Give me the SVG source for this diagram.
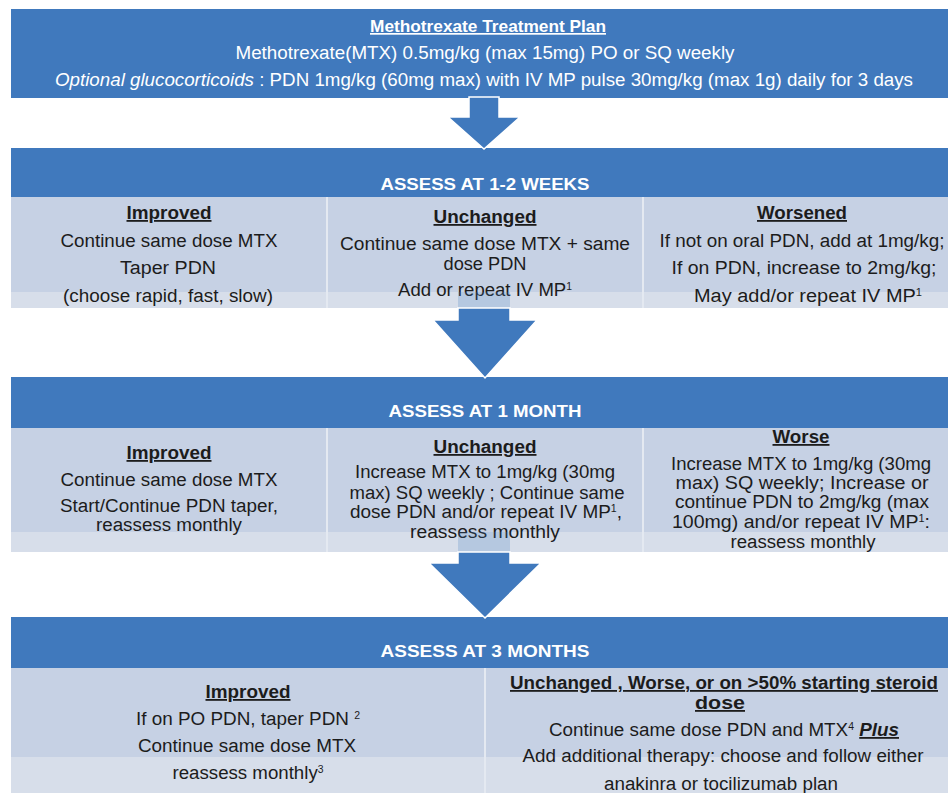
<svg xmlns="http://www.w3.org/2000/svg" width="948" height="793" viewBox="0 0 948 793">
  <style>
    .hd { fill: #4079bd; }
    .pn { fill: #c6d1e4; }
    .st { fill: #d7deea; }
    .dv { stroke: #e4e9f1; stroke-width: 2; }
    .t { font-family: "Liberation Sans", Arial, sans-serif; font-size: 18px; fill: #1c1c1c; text-anchor: middle; }
    .w { fill: #ffffff; }
    .b { font-weight: bold; }
    .i { font-style: italic; }
    .u { text-decoration: underline; }
    .h { font-size: 17px; }
    .sup { font-size: 10px; }
    .arrow { fill: #4079bd; stroke: #ffffff; stroke-width: 1.5; stroke-linejoin: miter; }
    .shaft { fill: #4079bd; fill-opacity: 0.22; }
  </style>
  <rect width="948" height="793" fill="#ffffff"/>

  <!-- Starting plan -->
  <g id="plan">
    <rect class="hd" x="11" y="9" width="948" height="89"/>
    <text class="t w b u h" x="488" y="32" textLength="236" lengthAdjust="spacingAndGlyphs">Methotrexate Treatment Plan</text>
    <text class="t w" x="485" y="59" textLength="499" lengthAdjust="spacingAndGlyphs">Methotrexate(MTX) 0.5mg/kg (max 15mg) PO or SQ weekly</text>
    <text class="t w" x="484" y="86" textLength="858" lengthAdjust="spacingAndGlyphs"><tspan class="i">Optional glucocorticoids</tspan> : PDN 1mg/kg (60mg max) with IV MP pulse 30mg/kg (max 1g) daily for 3 days</text>
  </g>

  <!-- Assessment at 1-2 weeks -->
  <g id="assess-1-2-weeks">
    <rect class="pn" x="11" y="197" width="948" height="95"/>
    <rect class="st" x="11" y="292" width="948" height="16"/>
    <rect class="hd" x="11" y="148" width="948" height="49"/>
    <line class="dv" x1="327" y1="197" x2="327" y2="308"/>
    <line class="dv" x1="643" y1="197" x2="643" y2="308"/>
    <text class="t w b h" x="485" y="190" textLength="209" lengthAdjust="spacingAndGlyphs">ASSESS AT 1-2 WEEKS</text>
  </g>
  <g id="w2-improved">
    <text class="t b u" x="169" y="219" textLength="85" lengthAdjust="spacingAndGlyphs">Improved</text>
    <text class="t" x="169" y="247" textLength="217" lengthAdjust="spacingAndGlyphs">Continue same dose MTX</text>
    <text class="t" x="168" y="274" textLength="96" lengthAdjust="spacingAndGlyphs">Taper PDN</text>
    <text class="t" x="168" y="302" textLength="210" lengthAdjust="spacingAndGlyphs">(choose rapid, fast, slow)</text>
  </g>
  <g id="w2-unchanged">
    <text class="t b u" x="485" y="223" textLength="103" lengthAdjust="spacingAndGlyphs">Unchanged</text>
    <text class="t" x="485" y="250" textLength="290" lengthAdjust="spacingAndGlyphs">Continue  same dose MTX + same</text>
    <text class="t" x="485" y="270" textLength="83" lengthAdjust="spacingAndGlyphs">dose PDN</text>
    <text class="t" x="485" y="296" textLength="174" lengthAdjust="spacingAndGlyphs">Add or repeat IV MP<tspan class="sup" dy="-6">1</tspan></text>
  </g>
  <g id="w2-worsened">
    <text class="t b u" x="802" y="219" textLength="90" lengthAdjust="spacingAndGlyphs">Worsened</text>
    <text class="t" x="802" y="247" textLength="285" lengthAdjust="spacingAndGlyphs">If not on oral PDN, add at 1mg/kg;</text>
    <text class="t" x="804" y="274" textLength="265" lengthAdjust="spacingAndGlyphs">If on PDN, increase to 2mg/kg;</text>
    <text class="t" x="808" y="302" textLength="228" lengthAdjust="spacingAndGlyphs">May add/or repeat IV MP<tspan class="sup" dy="-6">1</tspan></text>
  </g>

  <!-- Assessment at 1 month -->
  <g id="assess-1-month">
    <rect class="pn" x="11" y="428" width="948" height="104"/>
    <rect class="st" x="11" y="532" width="948" height="20"/>
    <rect class="hd" x="11" y="377" width="948" height="51"/>
    <line class="dv" x1="327" y1="428" x2="327" y2="552"/>
    <line class="dv" x1="643" y1="428" x2="643" y2="552"/>
    <text class="t w b h" x="485" y="417" textLength="193" lengthAdjust="spacingAndGlyphs">ASSESS AT 1 MONTH</text>
  </g>
  <g id="m1-improved">
    <text class="t b u" x="169" y="459" textLength="85" lengthAdjust="spacingAndGlyphs">Improved</text>
    <text class="t" x="169" y="486" textLength="217" lengthAdjust="spacingAndGlyphs">Continue same dose MTX</text>
    <text class="t" x="169" y="512" textLength="218" lengthAdjust="spacingAndGlyphs">Start/Continue PDN taper,</text>
    <text class="t" x="169" y="531" textLength="146" lengthAdjust="spacingAndGlyphs">reassess monthly</text>
  </g>
  <g id="m1-unchanged">
    <text class="t b u" x="485" y="453" textLength="103" lengthAdjust="spacingAndGlyphs">Unchanged</text>
    <text class="t" x="485" y="478" textLength="260" lengthAdjust="spacingAndGlyphs">Increase MTX to 1mg/kg (30mg</text>
    <text class="t" x="487" y="499" textLength="275" lengthAdjust="spacingAndGlyphs">max) SQ weekly ; Continue same</text>
    <text class="t" x="486" y="518" textLength="272" lengthAdjust="spacingAndGlyphs">dose PDN and/or repeat IV MP<tspan class="sup" dy="-6">1</tspan><tspan dy="6">,</tspan></text>
    <text class="t" x="485" y="538" textLength="150" lengthAdjust="spacingAndGlyphs">reassess  monthly</text>
  </g>
  <g id="m1-worse">
    <text class="t b u" x="801" y="443" textLength="57" lengthAdjust="spacingAndGlyphs">Worse</text>
    <text class="t" x="801" y="470" textLength="260" lengthAdjust="spacingAndGlyphs">Increase MTX to 1mg/kg (30mg</text>
    <text class="t" x="802" y="489" textLength="253" lengthAdjust="spacingAndGlyphs">max) SQ weekly;  Increase  or</text>
    <text class="t" x="802" y="508" textLength="254" lengthAdjust="spacingAndGlyphs">continue PDN to 2mg/kg (max</text>
    <text class="t" x="801" y="528" textLength="258" lengthAdjust="spacingAndGlyphs">100mg) and/or repeat IV MP<tspan class="sup" dy="-6">1</tspan><tspan dy="6">:</tspan></text>
    <text class="t" x="803" y="548" textLength="145" lengthAdjust="spacingAndGlyphs">reassess monthly</text>
  </g>

  <!-- Assessment at 3 months -->
  <g id="assess-3-months">
    <rect class="pn" x="11" y="668" width="948" height="89"/>
    <rect class="st" x="11" y="757" width="948" height="36"/>
    <rect class="hd" x="11" y="617" width="948" height="51"/>
    <line class="dv" x1="485" y1="668" x2="485" y2="793"/>
    <text class="t w b h" x="485" y="657" textLength="209" lengthAdjust="spacingAndGlyphs">ASSESS AT 3  MONTHS</text>
  </g>
  <g id="m3-improved">
    <text class="t b u" x="248" y="698" textLength="85" lengthAdjust="spacingAndGlyphs">Improved</text>
    <text class="t" x="248" y="725" textLength="224" lengthAdjust="spacingAndGlyphs">If on PO PDN, taper PDN <tspan class="sup" dy="-6">2</tspan></text>
    <text class="t" x="247" y="752" textLength="218" lengthAdjust="spacingAndGlyphs">Continue same dose MTX</text>
    <text class="t" x="248" y="779" textLength="151" lengthAdjust="spacingAndGlyphs">reassess monthly<tspan class="sup" dy="-6">3</tspan></text>
  </g>
  <g id="m3-unchanged-worse">
    <text class="t b u" x="724" y="689" textLength="428" lengthAdjust="spacingAndGlyphs">Unchanged , Worse, or on &gt;50% starting steroid</text>
    <text class="t b u" x="720" y="709" textLength="50" lengthAdjust="spacingAndGlyphs">dose</text>
    <text class="t" x="724" y="736" textLength="350" lengthAdjust="spacingAndGlyphs">Continue same dose PDN and MTX<tspan class="sup" dy="-6">4</tspan><tspan dy="6"> </tspan><tspan class="b i u">Plus</tspan></text>
    <text class="t" x="723" y="762" textLength="401" lengthAdjust="spacingAndGlyphs">Add additional therapy: choose and follow either</text>
    <text class="t" x="721" y="790" textLength="234" lengthAdjust="spacingAndGlyphs">anakinra or tocilizumab plan</text>
  </g>

  <!-- Flow arrows between stages -->
  <g id="connectors">
    <path class="arrow" d="M469,97 H499 V117 H520 L484,149 L448,117 H469 Z"/>
    <rect class="shaft" x="458" y="292" width="52" height="16"/>
    <path class="arrow" d="M458,308 H510 V320 H537 L485,378 L433,320 H458 Z"/>
    <rect class="shaft" x="458" y="532" width="52" height="20"/>
    <path class="arrow" d="M458,552 H510 V563 H541 L485,618 L429,563 H458 Z"/>
  </g>
</svg>
